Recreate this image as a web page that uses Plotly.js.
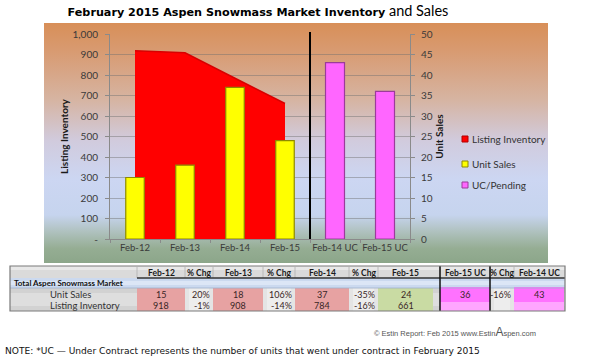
<!DOCTYPE html>
<html>
<head>
<meta charset="utf-8">
<script src="https://cdn.plot.ly/plotly-3.0.1.min.js"></script>
<style>html,body{margin:0;padding:0;background:#fff;}#chart{width:590px;height:359px;}</style>
</head>
<body>
<div id="chart"></div>
<script>
// ---------- DATA ----------
const categories = ['Feb-12', 'Feb-13', 'Feb-14', 'Feb-15', 'Feb-14 UC', 'Feb-15 UC'];
const inventoryCats = ['Feb-12', 'Feb-13', 'Feb-14', 'Feb-15'];
const listingInventory = [918, 908, 784, 661];
const unitSales = [15, 18, 37, 24];
const ucCats = ['Feb-14 UC', 'Feb-15 UC'];
const ucPending = [43, 36];
const leftTickVals = [0, 100, 200, 300, 400, 500, 600, 700, 800, 900, 1000];
const leftTickText = ['-', '100', '200', '300', '400', '500', '600', '700', '800', '900', '1,000'];
const rightTickVals = [0, 5, 10, 15, 20, 25, 30, 35, 40, 45, 50];
const seriesNames = ['Listing Inventory', 'Unit Sales', 'UC/Pending'];

const tableHeaders = ['Feb-12', '% Chg', 'Feb-13', '% Chg', 'Feb-14', '% Chg', 'Feb-15', 'Feb-15 UC', '% Chg', 'Feb-14 UC'];
const salesChg = ['20%', '106%', '-35%'];
const inventoryChg = ['-1%', '-14%', '-16%'];
const ucChg = '-16%';
const tableGroupLabel = 'Total Aspen Snowmass Market';
const tableRowLabels = ['Unit Sales', 'Listing Inventory'];

// ---------- GEOMETRY HELPERS ----------
const W = 590, H = 359, L = 110, R = 180, T = 34, B = 120;
const PW = W - L - R, PH = H - T - B;
const px = x => (x - L) / PW;
const py = y => (H - B - y) / PH;

// ---------- STYLES ----------
const seriesFill = ['#FF0000', '#FFFF00', '#FF66FF'];
const seriesEdge = ['#B00000', '#8E8A00', '#9A3C9A'];

// ---------- TRACES ----------
const traces = [
  {
    type: 'scatter', mode: 'lines', name: seriesNames[0],
    x: inventoryCats, y: listingInventory, fill: 'tozeroy',
    fillcolor: seriesFill[0], line: {color: '#D80000', width: 1.5},
    xaxis: 'x', yaxis: 'y', hoverinfo: 'skip'
  },
  {
    type: 'bar', name: seriesNames[1], x: inventoryCats, y: unitSales,
    width: 0.37, marker: {color: seriesFill[1], line: {color: seriesEdge[1], width: 1.2}},
    xaxis: 'x', yaxis: 'y2', hoverinfo: 'skip'
  },
  {
    type: 'bar', name: seriesNames[2], x: ucCats, y: ucPending,
    width: 0.38, marker: {color: seriesFill[2], line: {color: seriesEdge[2], width: 1.2}},
    xaxis: 'x', yaxis: 'y2', hoverinfo: 'skip'
  }
];

// ---------- BACKGROUND GRADIENT ----------
const bgSvg = "<svg xmlns='http://www.w3.org/2000/svg' width='100' height='100' preserveAspectRatio='none'>" +
  "<defs><linearGradient id='g' x1='0' y1='0' x2='0' y2='1'>" +
  "<stop offset='0' stop-color='#D88F58'/>" +
  "<stop offset='0.12' stop-color='#D89B72'/>" +
  "<stop offset='0.32' stop-color='#D6B4A2'/>" +
  "<stop offset='0.49' stop-color='#D1CBDD'/>" +
  "<stop offset='0.65' stop-color='#CCD6F2'/>" +
  "<stop offset='0.8' stop-color='#C6D4EE'/>" +
  "<stop offset='0.87' stop-color='#AFC1BE'/>" +
  "<stop offset='0.94' stop-color='#95AD93'/>" +
  "<stop offset='1' stop-color='#8CA68A'/>" +
  "</linearGradient></defs><rect width='100' height='100' fill='url(#g)'/></svg>";
const images = [{
  source: 'data:image/svg+xml;charset=utf-8,' + encodeURIComponent(bgSvg),
  xref: 'paper', yref: 'paper', x: px(44), y: py(23),
  sizex: (548 - 44) / PW, sizey: (263 - 23) / PH,
  sizing: 'stretch', layer: 'below', xanchor: 'left', yanchor: 'top'
}];

// ---------- SHAPES / ANNOTATIONS ----------
const shapes = [];
const annotations = [];
function rect(x0, y0, x1, y1, fill, line) {
  shapes.push({type: 'rect', xref: 'paper', yref: 'paper', x0: px(x0), x1: px(x1), y0: py(y1), y1: py(y0),
    fillcolor: fill, line: line || {width: 0}, layer: 'above'});
}
function hline(x0, x1, y, color, w) {
  shapes.push({type: 'line', xref: 'paper', yref: 'paper', x0: px(x0), x1: px(x1), y0: py(y), y1: py(y), line: {color: color, width: w}});
}
function vline(x, y0, y1, color, w) {
  shapes.push({type: 'line', xref: 'paper', yref: 'paper', x0: px(x), x1: px(x), y0: py(y0), y1: py(y1), line: {color: color, width: w}});
}
function text(t, x, y, anchor, font) {
  annotations.push({text: t, xref: 'paper', yref: 'paper', x: px(x), y: py(y), xanchor: anchor, yanchor: 'middle',
    showarrow: false, font: font});
}

// divider between actual and UC
shapes.push({type: 'line', xref: 'x', yref: 'paper', x0: 3.5, x1: 3.5, y0: 0, y1: py(32), line: {color: '#000', width: 2}});

// ---------- LEGEND (drawn) ----------
const legendY = [139, 164, 185];
const legendFont = {family: 'Lato', size: 10, color: '#333'};
for (let i = 0; i < seriesNames.length; i++) {
  rect(462, legendY[i] - 3, 468, legendY[i] + 3, seriesFill[i], {color: seriesEdge[i], width: 1});
  text(seriesNames[i], 470, legendY[i], 'left', legendFont);
}

// ---------- TABLE ----------
const tTop = 266, tHead = 278, tSub = 288, tRow1 = 299, tBot = 311, tLeft = 10, tRight = 565;
const colX0 = [137, 185, 213, 263, 295, 349, 378, 440, 490, 514];
const colX1 = [185, 213, 263, 295, 349, 378, 433, 490, 514, 564];
const colKind = ['val', 'chg', 'val', 'chg', 'val', 'chg', 'cur', 'uc', 'chg', 'uc'];
const kindFill = {val: '#E7A2A2', chg: '#E6E6E6', cur: '#C9DBA3', uc: '#FF74FF'};

// backgrounds
rect(tLeft, tTop, tRight, tHead, '#DADADA');
rect(tLeft, tTop, tRight, tTop + 4, '#E8E8E8');
rect(tLeft, tHead, tRight, tSub, '#CBD9EF');
rect(tLeft, tHead + 3, tRight, tSub - 3, '#DCE6F6');
rect(tLeft, tSub, tRight, tBot, '#D2D2D2');
rect(tLeft, tSub + 5, tRight, tBot - 5, '#DEDEDE');

// column values
const row1 = [], row2 = [];
let si = 0, ci = 0;
for (let i = 0; i < tableHeaders.length; i++) {
  const k = colKind[i];
  if (k === 'val' || k === 'cur') { row1.push(String(unitSales[si])); row2.push(String(listingInventory[si])); si++; }
  else if (k === 'chg' && i < 7) { row1.push(salesChg[ci]); row2.push(inventoryChg[ci]); ci++; }
  else if (k === 'uc') { row1.push(String(ucPending[i === 7 ? 1 : 0])); row2.push(''); }
  else { row1.push(ucChg); row2.push(''); }
}

const hFont = {family: 'Lato', size: 8.5, color: '#1a1a1a', weight: 'bold'};
const cFont = {family: 'Lato', size: 9, color: '#3a2626'};
for (let i = 0; i < tableHeaders.length; i++) {
  const k = colKind[i], x0 = colX0[i], x1 = colX1[i];
  if (k === 'uc') {
    rect(x0, tSub - 1, x1, tBot, '#FF72FF');
    rect(x0, tRow1 + 3, x1, tBot, '#FFA6FF');
  } else if (k === 'chg') {
    rect(x0, tSub, x1, tBot, '#E4E4E4');
    rect(x0 + 4, tSub, x1 - 4, tBot, '#EDEDED');
  } else {
    rect(x0, tSub, x1, tBot, kindFill[k]);
  }
  vline(x0, tTop + 1, tHead, '#B0B0B0', 0.8);
  text(tableHeaders[i], (x0 + x1) / 2, 272.5, 'center', hFont);
  if (k === 'chg') {
    text(row1[i], x1 - 1, 294, 'right', cFont);
    text(row2[i], x1 - 1, 305.5, 'right', cFont);
  } else {
    text(row1[i], (x0 + x1) / 2, 294, 'center', cFont);
    text(row2[i], (x0 + x1) / 2, 305.5, 'center', cFont);
  }
}
hline(137, tRight, tHead, '#333', 1.5);
hline(tLeft, tRight, tSub, '#9FB0CC', 0.8);
vline(440, tTop, tBot, '#111', 1.5);
vline(490, tTop, tBot, '#111', 1.5);
rect(tLeft, tTop, tRight, tBot, 'rgba(0,0,0,0)', {color: '#7A7A7A', width: 1.2});

text(tableGroupLabel, 12, 283, 'left', {family: 'Lato', size: 8, color: '#111', weight: 'bold'});
text(tableRowLabels[0], 48, 294, 'left', {family: 'Lato', size: 9.5, color: '#333'});
text(tableRowLabels[1], 48, 305.5, 'left', {family: 'Lato', size: 9.5, color: '#333'});

// credits and note
text('© Estin Report: Feb 2015 www.Estin<span style="font-size:12px">A</span>spen.com', 538, 332, 'right',
  {family: 'Liberation Sans', size: 7.5, color: '#555'});
text('NOTE: *UC — Under Contract represents the number of units that went under contract in February 2015', 3, 351, 'left',
  {family: 'DejaVu Sans', size: 9.1, color: '#111'});

// ---------- LAYOUT ----------
const tickFont = {family: 'Lato', size: 10, color: '#3a3a3a'};
const layout = {
  width: W, height: H,
  margin: {l: L, r: R, t: T, b: B, pad: 0},
  paper_bgcolor: '#FFFFFF', plot_bgcolor: 'rgba(0,0,0,0)',
  barmode: 'overlay',
  showlegend: false,
  title: {
    text: '<b>February 2015 Aspen Snowmass Market Inventory</b> <span style="font-family:Lato;font-size:14.5px">and Sales</span>',
    font: {family: 'DejaVu Sans', size: 11.2, color: '#000'},
    xref: 'container', yref: 'container', x: 258 / W, y: 1 - 12 / H, xanchor: 'center', yanchor: 'middle'
  },
  xaxis: {
    type: 'category', categoryorder: 'array', categoryarray: categories, range: [-0.5, 5.5],
    showline: true, linecolor: '#8A8A8A', linewidth: 1,
    ticks: 'outside', tickson: 'boundaries', ticklen: 3, tickcolor: '#8A8A8A',
    tickangle: 0, tickfont: {family: 'Lato', size: 9.5, color: '#3a3a3a'}, showgrid: false, fixedrange: true
  },
  yaxis: {
    range: [0, 1000], tickvals: leftTickVals, ticktext: leftTickText,
    showline: true, linecolor: '#8A8A8A', linewidth: 1,
    ticks: 'outside', ticklen: 4, tickcolor: '#8A8A8A',
    gridcolor: 'rgba(110,110,110,0.45)', gridwidth: 1, zeroline: false,
    tickfont: tickFont, ticklabelstandoff: 5,
    title: {text: 'Listing Inventory', font: {family: 'Lato', size: 10, color: '#1a1a1a', weight: 'bold'}, standoff: 2},
    fixedrange: true
  },
  yaxis2: {
    range: [0, 50], tickvals: rightTickVals, overlaying: 'y', side: 'right',
    showline: true, linecolor: '#8A8A8A', linewidth: 1,
    ticks: 'outside', ticklen: 4, tickcolor: '#8A8A8A',
    showgrid: false, zeroline: false, tickfont: tickFont, ticklabelstandoff: 4,
    title: {text: 'Unit Sales', font: {family: 'Lato', size: 10, color: '#1a1a1a', weight: 'bold'}, standoff: 4},
    fixedrange: true
  },
  images: images,
  shapes: shapes,
  annotations: annotations
};

Plotly.newPlot('chart', traces, layout, {displayModeBar: false, staticPlot: true});
</script>
</body>
</html>
